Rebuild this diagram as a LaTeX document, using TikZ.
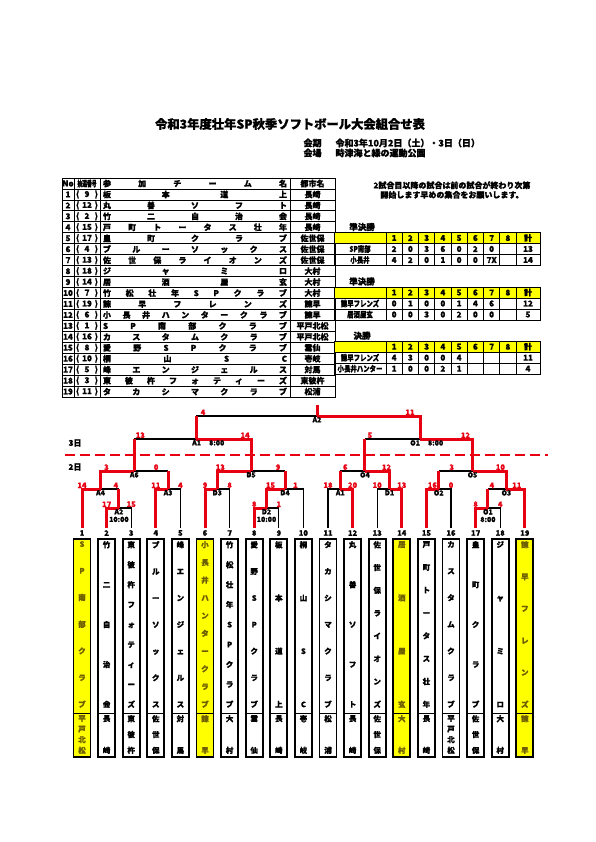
\documentclass[tikz,border=0pt]{standalone}
\usepackage{fontspec}
\setmainfont{Noto Sans CJK JP}[BoldFeatures={FakeBold=1.2}]
\usepackage{graphicx}
\usetikzlibrary{calc}
\definecolor{lineRed}{RGB}{230,0,18}
\definecolor{boxYellow}{RGB}{255,255,0}
\definecolor{nameOnYellow}{RGB}{110,95,0}

\makeatletter
% characters spread over a width / a height
\newcommand\spreadtxt[2]{\makebox[#1][s]{\def\sep{}\expandafter\spread@\expandafter{#2}}}
\newcommand\spread@[1]{\@tfor\ch:=#1\do{\sep\ch\def\sep{\hfill}}}
\newcommand\vtxt[2]{\vbox to #1{\def\sep{}\expandafter\vtxt@\expandafter{#2}}}
\newcommand\vtxt@[1]{\@tfor\ch:=#1\do{\sep\hbox to 14pt{\hss\ch\hss}\def\sep{\vfill}}}
\makeatother

\tikzset{
  cell/.style={draw, line width=0.8pt, inner sep=0pt, minimum height=10.95pt, font=\fontsize{8}{8}\selectfont\bfseries},
  scell/.style={cell, minimum height=11pt},
  win/.style={lineRed, line width=3pt},
  lose/.style={black, line width=1.2pt},
  sc/.style={lineRed, font=\fontsize{7.5}{8}\selectfont\bfseries, inner sep=0.8pt},
  mlab/.style={font=\fontsize{7}{7.5}\selectfont\bfseries, inner sep=1pt, align=center},
  tbox/.style={draw, line width=1.8pt, minimum width=17pt, minimum height=218pt, anchor=north, inner sep=0pt},
  tnum/.style={font=\fontsize{7.5}{8}\selectfont\bfseries, inner sep=0pt},
  vname/.style={anchor=north, inner sep=0pt, font=\fontsize{7.5}{8}\selectfont\bfseries},
}

\begin{document}
\begin{tikzpicture}[x=1pt, y=-1pt]
\useasboundingbox (0,0) rectangle (595,842);

% title
\node[font=\fontsize{12.3}{13}\selectfont\bfseries] (title) at (290,124) {令和3年度壮年SP秋季ソフトボール大会組合せ表};
\node[anchor=west, font=\fontsize{9}{10}\selectfont\bfseries] (kaiki) at (300,143) {会期\hspace{14pt}令和3年10月2日（土）・3日（日）};
\node[anchor=west, font=\fontsize{9}{10}\selectfont\bfseries] (kaijo) at (300,153) {会場\hspace{14pt}時津海と緑の運動公園};

% entry list
\node[cell, minimum width=12pt] (no0) at (68,183.5) {No};
\node[cell, minimum width=26pt] (lot0) at (87,183.5) {\scalebox{0.6}[1]{抽選番号}};
\node[cell, minimum width=190pt] (tm0) at (195,183.5) {\spreadtxt{184pt}{参加チーム名}};
\node[cell, minimum width=45pt] (ct0) at (312.5,183.5) {都市名};
\foreach \n/\lot/\nm/\ct in {1/9/板本道上/長崎, 2/12/丸善ソフト/長崎, 3/2/竹二自治会/長崎,
  4/15/戸町トータス壮年/長崎, 5/17/皇町クラブ/佐世保, 6/4/ブルーソックス/佐世保,
  7/13/佐世保ライオンズ/佐世保, 8/18/ジャミロ/大村, 9/14/居酒屋玄/大村,
  10/7/竹松壮年SPクラブ/大村, 11/19/諫早フレンズ/諫早, 12/6/小長井ハンタークラブ/諫早,
  13/1/SP南部クラブ/平戸北松, 14/16/カスタムクラブ/平戸北松, 15/8/愛野SPクラブ/雲仙,
  16/10/桐山SC/壱岐, 17/5/峰エンジェルス/対馬, 18/3/東彼杵フォティーズ/東彼杵,
  19/11/タカシマクラブ/松浦} {
  \pgfmathsetmacro\yy{183.5+\n*10.95}
  \node[cell, minimum width=12pt] (no\n) at (68,\yy) {\n};
  \node[cell, minimum width=26pt] (lot\n) at (87,\yy) {\makebox[22pt][s]{(\hfill\lot\hfill)}};
  \node[cell, minimum width=190pt] (tm\n) at (195,\yy) {\spreadtxt{184pt}{\nm}};
  \node[cell, minimum width=45pt] (ct\n) at (312.5,\yy) {\ct};
}

% note
\node[align=center, font=\fontsize{8}{9.5}\selectfont\bfseries] (note) at (452,190) {2試合目以降の試合は前の試合が終わり次第\\開始します早めの集合をお願いします。};

% score tables
\foreach \ty/\lab/\na/\ra/\nb/\rb [count=\q] in {
  232.5/準決勝/SP南部/{2,0,3,6,0,2,0,,13}/小長井/{4,2,0,1,0,0,7X,,14},
  287/準決勝/諫早フレンズ/{0,1,0,0,1,4,6,,12}/居酒屋玄/{0,0,3,0,2,0,0,,5},
  341.2/決勝/諫早フレンズ/{4,3,0,0,4,,,,11}/小長井ハンター/{1,0,0,2,1,,,,4}} {
  \node[font=\fontsize{8.5}{9}\selectfont\bfseries] (lab\q) at (362,\ty-5.5) {\lab};
  \node[scell, fill=boxYellow, minimum width=52pt] (hn\q) at (360,\ty+5.5) {};
  \foreach \k in {1,...,8}
    \node[scell, fill=boxYellow, minimum width=16.25pt] (h\q-\k) at ({386+(\k-0.5)*16.25},\ty+5.5) {\k};
  \node[scell, fill=boxYellow, minimum width=24pt] (hs\q) at (528,\ty+5.5) {計};
  \node[scell, minimum width=52pt] (na\q) at (360,\ty+16.5) {\scalebox{0.8}[1]{\na}};
  \node[scell, minimum width=52pt] (nb\q) at (360,\ty+27.5) {\scalebox{0.8}[1]{\nb}};
  \foreach \v [count=\k] in \ra {
    \pgfmathsetmacro\cx{\k<9 ? 386+(\k-0.5)*16.25 : 528}
    \pgfmathsetmacro\cw{\k<9 ? 16.25 : 24}
    \node[scell, minimum width=\cw pt] (ra\q-\k) at (\cx,\ty+16.5) {\v};
  }
  \foreach \v [count=\k] in \rb {
    \pgfmathsetmacro\cx{\k<9 ? 386+(\k-0.5)*16.25 : 528}
    \pgfmathsetmacro\cw{\k<9 ? 16.25 : 24}
    \node[scell, minimum width=\cw pt] (rb\q-\k) at (\cx,\ty+27.5) {\v};
  }
}

% teams
\foreach \i/\nm/\ct/\fc/\tc in {1/SP南部クラブ/平戸北松/boxYellow/nameOnYellow,
  2/竹二自治会/長崎/white/black, 3/東彼杵フォティーズ/東彼杵/white/black,
  4/ブルーソックス/佐世保/white/black, 5/峰エンジェルス/対馬/white/black,
  6/小長井ハンタークラブ/諫早/boxYellow/nameOnYellow, 7/竹松壮年SPクラブ/大村/white/black,
  8/愛野SPクラブ/雲仙/white/black, 9/板本道上/長崎/white/black, 10/桐山SC/壱岐/white/black,
  11/タカシマクラブ/松浦/white/black, 12/丸善ソフト/長崎/white/black,
  13/佐世保ライオンズ/佐世保/white/black, 14/居酒屋玄/大村/boxYellow/nameOnYellow,
  15/戸町トータス壮年/長崎/white/black, 16/カスタムクラブ/平戸北松/white/black,
  17/皇町クラブ/佐世保/white/black, 18/ジャミロ/大村/white/black,
  19/諫早フレンズ/諫早/boxYellow/nameOnYellow} {
  \pgfmathsetmacro\xx{82+(\i-1)*24.6}
  \node[tnum] (n\i) at (\xx,533) {\i};
  \coordinate (t\i) at (\xx,528);
  \node[tbox, fill=\fc] (b\i) at (\xx,538) {};
  \draw[line width=1.2pt] ($(b\i.south west)+(0,-44)$) -- ($(b\i.south east)+(0,-44)$);
  \node[vname, text=\tc] (nm\i) at (\xx,541) {\vtxt{166pt}{\nm}};
  \node[vname, text=\tc] (bc\i) at (\xx,715) {\vtxt{38pt}{\ct}};
}

% games
\coordinate (A2d) at (118.9,508);
\coordinate (A4) at (100.5,489);
\coordinate (A3) at (168.1,489);
\coordinate (A6) at (134.3,471);
\coordinate (D2) at (266.5,508);
\coordinate (D3) at (217.3,489);
\coordinate (D4) at (285,489);
\coordinate (D5) at (251.1,471);
\coordinate (A1d) at (340.3,489);
\coordinate (D1) at (389.5,489);
\coordinate (O4) at (364.9,471);
\coordinate (O2) at (438.7,489);
\coordinate (O1d) at (487.9,508);
\coordinate (O3) at (506.4,489);
\coordinate (O5) at (472.5,471);
\coordinate (SA) at (196,439);
\coordinate (SO) at (420,439);
\coordinate (FIN) at (317,416);
\coordinate (TOP) at (317,405);

% day separator
\draw[lineRed, line width=2.6pt, dash pattern=on 10pt off 5pt] (65,455) -- (548,455);
\node[font=\fontsize{8}{9}\selectfont\bfseries] (day3) at (75,443) {3日};
\node[font=\fontsize{8}{9}\selectfont\bfseries] (day2) at (75,467) {2日};

% lost lines
\draw[lose] (t3) |- (A2d);
\draw[lose] (A2d |- A4) -- (A4);
\draw[lose] (t5) |- (A3);
\draw[lose] (A3 |- A6) -- (A6);
\draw[lose] (A6 |- SA) -- (SA);
\draw[lose] (t7) |- (D3);
\draw[lose] (t9) |- (D2);
\draw[lose] (t10) |- (D4);
\draw[lose] (D4 |- D5) -- (D5);
\draw[lose] (SA |- FIN) -- (FIN);
\draw[lose] (t11) |- (A1d);
\draw[lose] (t13) |- (D1);
\draw[lose] (A1d |- O4) -- (O4);
\draw[lose] (O4 |- SO) -- (SO);
\draw[lose] (t16) |- (O2);
\draw[lose] (t18) |- (O1d);
\draw[lose] (O1d |- O3) -- (O3);
\draw[lose] (O2 |- O5) -- (O5);

% won lines
\draw[win] (t1) |- (A4);
\draw[win] (t2) |- (A2d);
\draw[win] (A2d) -- (A2d |- A4);
\draw[win] (A4) |- (A6);
\draw[win] (t4) |- (A3);
\draw[win] (A3) -- (A3 |- A6);
\draw[win] (A6) -- (A6 |- SA);
\draw[win] (t6) |- (D3);
\draw[win] (t8) |- (D2);
\draw[win] (D2) |- (D4);
\draw[win] (D3) |- (D5);
\draw[win] (D4) -- (D4 |- D5);
\draw[win] (D5) |- (SA);
\draw[win] (SA) -- (SA |- FIN);
\draw[win] (t12) |- (A1d);
\draw[win] (t14) |- (D1);
\draw[win] (A1d) -- (A1d |- O4);
\draw[win] (D1) |- (O4);
\draw[win] (O4) -- (O4 |- SO);
\draw[win] (t15) |- (O2);
\draw[win] (t17) |- (O1d);
\draw[win] (O1d) -- (O1d |- O3);
\draw[win] (t19) |- (O3);
\draw[win] (O2) -- (O2 |- O5);
\draw[win] (O3) |- (O5);
\draw[win] (O5) |- (SO);
\draw[win] (SO) |- (FIN);
\draw[win] (FIN) -- (TOP);

% scores
\node[sc, above] at (t1 |- A4) {14};
\node[sc, above, xshift=-3pt] at (A2d |- A4) {4};
\node[sc, above] at (t2 |- A2d) {17};
\node[sc, above] at (t3 |- A2d) {15};
\node[sc, above] at (t4 |- A3) {11};
\node[sc, above] at (t5 |- A3) {4};
\node[sc, above, xshift=6pt] at (A4 |- A6) {3};
\node[sc, above, xshift=-12pt] at (A3 |- A6) {0};
\node[sc, above] at (t6 |- D3) {9};
\node[sc, above] at (t7 |- D3) {8};
\node[sc, above] at (t8 |- D2) {8};
\node[sc, above] at (t9 |- D2) {1};
\node[sc, above, xshift=4pt] at (D2 |- D4) {15};
\node[sc, above, xshift=-8pt] at (t10 |- D4) {1};
\node[sc, above, xshift=3pt] at (D3 |- D5) {13};
\node[sc, above, xshift=-7pt] at (D4 |- D5) {9};
\node[sc, above, xshift=6pt] at (A6 |- SA) {13};
\node[sc, above, xshift=-6pt] at (D5 |- SA) {14};
\node[sc, above, xshift=7pt] at (SA |- FIN) {4};
\node[sc, above, xshift=-10pt] at (SO |- FIN) {11};
\node[sc, above] at (t11 |- A1d) {18};
\node[sc, above] at (t12 |- A1d) {20};
\node[sc, above] at (t13 |- D1) {10};
\node[sc, above] at (t14 |- D1) {13};
\node[sc, above, xshift=5pt] at (A1d |- O4) {6};
\node[sc, above, xshift=-3pt] at (D1 |- O4) {12};
\node[sc, above, xshift=6pt] at (t15 |- O2) {16};
\node[sc, above] at (t16 |- O2) {0};
\node[sc, above] at (t17 |- O1d) {8};
\node[sc, above] at (t18 |- O1d) {4};
\node[sc, above, xshift=4pt] at (O1d |- O3) {4};
\node[sc, above, xshift=-8pt] at (t19 |- O3) {11};
\node[sc, above, xshift=13pt] at (O2 |- O5) {3};
\node[sc, above, xshift=-6pt] at (O3 |- O5) {10};
\node[sc, above, xshift=5pt] at (O4 |- SO) {5};
\node[sc, above, xshift=-7pt] at (O5 |- SO) {12};

% game names
\node[mlab, below] (lA2d) at (A2d) {A2\\10:00};
\node[mlab, below] (lA4) at (A4) {A4};
\node[mlab, below] (lA3) at (A3) {A3};
\node[mlab, below] (lA6) at (A6) {A6};
\node[mlab, below] (lD2) at (D2) {D2\\10:00};
\node[mlab, below] (lD3) at (D3) {D3};
\node[mlab, below] (lD4) at (D4) {D4};
\node[mlab, below] (lD5) at (D5) {D5};
\node[mlab, below] (lA1d) at (A1d) {A1};
\node[mlab, below] (lD1) at (D1) {D1};
\node[mlab, below] (lO4) at (O4) {O4};
\node[mlab, below] (lO2) at (O2) {O2};
\node[mlab, below] (lO1d) at (O1d) {O1\\8:00};
\node[mlab, below] (lO3) at (O3) {O3};
\node[mlab, below] (lO5) at (O5) {O5};
\node[mlab, below right, xshift=-5pt] (lSA) at (SA) {A1\hspace{8pt}8:00};
\node[mlab, below right, xshift=-11pt] (lSO) at (SO) {O1\hspace{8pt}8:00};
\node[mlab, below] (lFIN) at (FIN) {A2};
\end{tikzpicture}
\end{document}
